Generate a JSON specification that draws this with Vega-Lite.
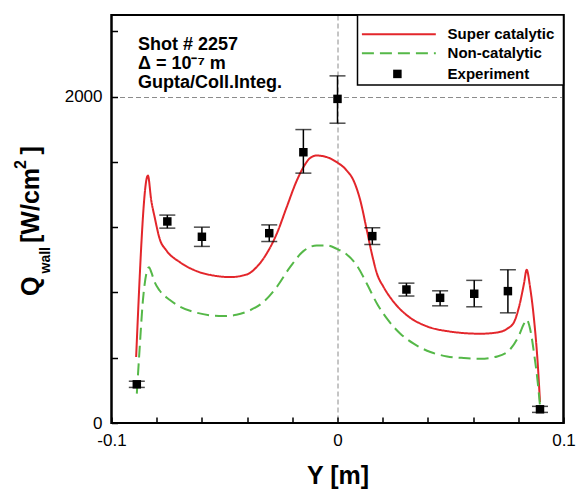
{
  "$schema": "https://vega.github.io/schema/vega-lite/v6.json",
  "width": 452,
  "height": 408,
  "autosize": {"type": "none"},
  "padding": {"left": 111.5, "top": 15, "right": 20.5, "bottom": 67},
  "background": "white",
  "config": {
    "font": "Liberation Sans",
    "view": {"stroke": "black", "strokeWidth": 2},
    "axis": {"labelColor": "black", "titleColor": "black", "labelFont": "Liberation Sans", "titleFont": "Liberation Sans", "domain": false}
  },
  "datasets": {
    "one": [{}],
    "sim": [
      {"Y": -0.0891, "Q": 404, "series": "Super catalytic"},
      {"Y": -0.0839, "Q": 1516, "series": "Super catalytic"},
      {"Y": -0.0824, "Q": 1363, "series": "Super catalytic"},
      {"Y": -0.0809, "Q": 1261, "series": "Super catalytic"},
      {"Y": -0.0787, "Q": 1129, "series": "Super catalytic"},
      {"Y": -0.0757, "Q": 1057, "series": "Super catalytic"},
      {"Y": -0.0698, "Q": 986, "series": "Super catalytic"},
      {"Y": -0.0624, "Q": 931, "series": "Super catalytic"},
      {"Y": -0.055, "Q": 904, "series": "Super catalytic"},
      {"Y": -0.0476, "Q": 894, "series": "Super catalytic"},
      {"Y": -0.0402, "Q": 910, "series": "Super catalytic"},
      {"Y": -0.0358, "Q": 955, "series": "Super catalytic"},
      {"Y": -0.0314, "Q": 1037, "series": "Super catalytic"},
      {"Y": -0.0269, "Q": 1159, "series": "Super catalytic"},
      {"Y": -0.0225, "Q": 1322, "series": "Super catalytic"},
      {"Y": -0.018, "Q": 1486, "series": "Super catalytic"},
      {"Y": -0.0151, "Q": 1567, "series": "Super catalytic"},
      {"Y": -0.0121, "Q": 1624, "series": "Super catalytic"},
      {"Y": -0.0092, "Q": 1639, "series": "Super catalytic"},
      {"Y": -0.0047, "Q": 1629, "series": "Super catalytic"},
      {"Y": -0.0003, "Q": 1598, "series": "Super catalytic"},
      {"Y": 0.0041, "Q": 1547, "series": "Super catalytic"},
      {"Y": 0.0071, "Q": 1486, "series": "Super catalytic"},
      {"Y": 0.0101, "Q": 1363, "series": "Super catalytic"},
      {"Y": 0.013, "Q": 1180, "series": "Super catalytic"},
      {"Y": 0.0152, "Q": 1037, "series": "Super catalytic"},
      {"Y": 0.0175, "Q": 914, "series": "Super catalytic"},
      {"Y": 0.0204, "Q": 833, "series": "Super catalytic"},
      {"Y": 0.0249, "Q": 741, "series": "Super catalytic"},
      {"Y": 0.0308, "Q": 659, "series": "Super catalytic"},
      {"Y": 0.0396, "Q": 592, "series": "Super catalytic"},
      {"Y": 0.0485, "Q": 563, "series": "Super catalytic"},
      {"Y": 0.0633, "Q": 547, "series": "Super catalytic"},
      {"Y": 0.0707, "Q": 555, "series": "Super catalytic"},
      {"Y": 0.0751, "Q": 578, "series": "Super catalytic"},
      {"Y": 0.0781, "Q": 618, "series": "Super catalytic"},
      {"Y": 0.0803, "Q": 710, "series": "Super catalytic"},
      {"Y": 0.0825, "Q": 853, "series": "Super catalytic"},
      {"Y": 0.0837, "Q": 939, "series": "Super catalytic"},
      {"Y": 0.0852, "Q": 833, "series": "Super catalytic"},
      {"Y": 0.087, "Q": 629, "series": "Super catalytic"},
      {"Y": 0.0885, "Q": 384, "series": "Super catalytic"},
      {"Y": 0.0896, "Q": 129, "series": "Super catalytic"},
      {"Y": -0.0888, "Q": 180, "series": "Non-catalytic"},
      {"Y": -0.0876, "Q": 445, "series": "Non-catalytic"},
      {"Y": -0.0861, "Q": 751, "series": "Non-catalytic"},
      {"Y": -0.0846, "Q": 914, "series": "Non-catalytic"},
      {"Y": -0.0834, "Q": 955, "series": "Non-catalytic"},
      {"Y": -0.0824, "Q": 924, "series": "Non-catalytic"},
      {"Y": -0.0809, "Q": 863, "series": "Non-catalytic"},
      {"Y": -0.0787, "Q": 812, "series": "Non-catalytic"},
      {"Y": -0.0743, "Q": 755, "series": "Non-catalytic"},
      {"Y": -0.0698, "Q": 714, "series": "Non-catalytic"},
      {"Y": -0.0624, "Q": 676, "series": "Non-catalytic"},
      {"Y": -0.0506, "Q": 655, "series": "Non-catalytic"},
      {"Y": -0.0447, "Q": 663, "series": "Non-catalytic"},
      {"Y": -0.0388, "Q": 690, "series": "Non-catalytic"},
      {"Y": -0.0328, "Q": 741, "series": "Non-catalytic"},
      {"Y": -0.0269, "Q": 833, "series": "Non-catalytic"},
      {"Y": -0.021, "Q": 955, "series": "Non-catalytic"},
      {"Y": -0.0151, "Q": 1053, "series": "Non-catalytic"},
      {"Y": -0.0092, "Q": 1088, "series": "Non-catalytic"},
      {"Y": -0.0047, "Q": 1088, "series": "Non-catalytic"},
      {"Y": -0.0003, "Q": 1067, "series": "Non-catalytic"},
      {"Y": 0.0041, "Q": 1033, "series": "Non-catalytic"},
      {"Y": 0.0086, "Q": 965, "series": "Non-catalytic"},
      {"Y": 0.013, "Q": 853, "series": "Non-catalytic"},
      {"Y": 0.0175, "Q": 731, "series": "Non-catalytic"},
      {"Y": 0.0219, "Q": 639, "series": "Non-catalytic"},
      {"Y": 0.0278, "Q": 547, "series": "Non-catalytic"},
      {"Y": 0.0337, "Q": 486, "series": "Non-catalytic"},
      {"Y": 0.0411, "Q": 435, "series": "Non-catalytic"},
      {"Y": 0.0485, "Q": 408, "series": "Non-catalytic"},
      {"Y": 0.0559, "Q": 398, "series": "Non-catalytic"},
      {"Y": 0.0633, "Q": 394, "series": "Non-catalytic"},
      {"Y": 0.0707, "Q": 408, "series": "Non-catalytic"},
      {"Y": 0.0766, "Q": 455, "series": "Non-catalytic"},
      {"Y": 0.0803, "Q": 537, "series": "Non-catalytic"},
      {"Y": 0.0825, "Q": 608, "series": "Non-catalytic"},
      {"Y": 0.0837, "Q": 633, "series": "Non-catalytic"},
      {"Y": 0.0852, "Q": 578, "series": "Non-catalytic"},
      {"Y": 0.087, "Q": 424, "series": "Non-catalytic"},
      {"Y": 0.0885, "Q": 261, "series": "Non-catalytic"},
      {"Y": 0.0896, "Q": 108, "series": "Non-catalytic"}
    ],
    "exp": [
      {"Y": -0.0888, "Q": 237, "lo": 218, "hi": 256},
      {"Y": -0.0753, "Q": 1235, "lo": 1194, "hi": 1274},
      {"Y": -0.06, "Q": 1141, "lo": 1082, "hi": 1200},
      {"Y": -0.0302, "Q": 1163, "lo": 1112, "hi": 1214},
      {"Y": -0.0151, "Q": 1659, "lo": 1531, "hi": 1798},
      {"Y": 0.0, "Q": 1986, "lo": 1837, "hi": 2127},
      {"Y": 0.0154, "Q": 1145, "lo": 1094, "hi": 1196},
      {"Y": 0.0305, "Q": 818, "lo": 778, "hi": 857},
      {"Y": 0.0454, "Q": 767, "lo": 718, "hi": 810},
      {"Y": 0.0605, "Q": 792, "lo": 712, "hi": 874},
      {"Y": 0.0754, "Q": 808, "lo": 675, "hi": 939},
      {"Y": 0.0896, "Q": 84, "lo": 65, "hi": 102}
    ]
  },
  "layer": [
    {
      "data": {"name": "sim"},
      "mark": {"type": "line", "interpolate": "monotone", "strokeWidth": 2},
      "encoding": {
        "x": {"field": "Y", "type": "quantitative", "scale": {"domain": [-0.1, 0.1], "nice": false, "zero": false},
          "axis": {"orient": "bottom", "values": [-0.1, -0.09, -0.08, -0.07, -0.06, -0.05, -0.04, -0.03, -0.02, -0.01, 0, 0.01, 0.02, 0.03, 0.04, 0.05, 0.06, 0.07, 0.08, 0.09, 0.1],
            "labelExpr": "(abs(datum.value) < 0.001 || abs(abs(datum.value) - 0.05) < 0.001 || abs(abs(datum.value) - 0.1) < 0.001) ? '' + datum.value : ''",
            "title": "Y [m]", "titleFontSize": 25, "titleFontWeight": "bold", "titlePadding": 15, "labelFontSize": 17, "labelPadding": 15.5,
            "ticks": true, "tickSize": -6, "tickWidth": 1.5, "tickColor": "black",
            "grid": true, "gridWidth": 1, "gridColor": "#8c8c8c", "gridDash": [5, 3],
            "gridOpacity": {"condition": {"test": "abs(datum.value) < 0.001 || abs(abs(datum.value) - 0.05) < 0.001", "value": 1}, "value": 0},
            "labelFlush": false, "labelOverlap": false}},
        "y": {"field": "Q", "type": "quantitative", "scale": {"domain": [0, 2500], "nice": false},
          "axis": {"orient": "left", "values": [0, 100, 200, 300, 400, 500, 600, 700, 800, 900, 1000, 1100, 1200, 1300, 1400, 1500, 1600, 1700, 1800, 1900, 2000, 2100, 2200, 2300, 2400, 2500],
            "labelExpr": "datum.value % 500 == 0 ? '' + datum.value : ''",
            "title": null, "labelFontSize": 17, "labelPadding": 15.5,
            "ticks": true, "tickSize": -6, "tickWidth": 1.5, "tickColor": "black",
            "grid": true, "gridWidth": 1, "gridColor": "#8c8c8c", "gridDash": [5, 3],
            "gridOpacity": {"condition": {"test": "datum.value % 500 == 0 && datum.value > 1 && datum.value < 2499", "value": 1}, "value": 0},
            "labelFlush": false, "labelOverlap": false}},
        "color": {"field": "series", "type": "nominal", "scale": {"domain": ["Super catalytic", "Non-catalytic"], "range": ["#e3262b", "#55b848"]}, "legend": null},
        "strokeDash": {"field": "series", "type": "nominal", "scale": {"domain": ["Super catalytic", "Non-catalytic"], "range": [[1, 0], [12, 6]]}, "legend": null}
      }
    },
    {
      "data": {"name": "exp"},
      "mark": {"type": "rule", "color": "black", "strokeWidth": 1.5},
      "encoding": {
        "x": {"field": "Y", "type": "quantitative"},
        "y": {"field": "lo", "type": "quantitative"},
        "y2": {"field": "hi"}
      }
    },
    {
      "data": {"name": "exp"},
      "mark": {"type": "tick", "orient": "horizontal", "color": "black", "size": 16, "thickness": 1.5},
      "encoding": {
        "x": {"field": "Y", "type": "quantitative"},
        "y": {"field": "hi", "type": "quantitative"}
      }
    },
    {
      "data": {"name": "exp"},
      "mark": {"type": "tick", "orient": "horizontal", "color": "black", "size": 16, "thickness": 1.5},
      "encoding": {
        "x": {"field": "Y", "type": "quantitative"},
        "y": {"field": "lo", "type": "quantitative"}
      }
    },
    {
      "data": {"name": "exp"},
      "mark": {"type": "point", "shape": "square", "filled": true, "color": "black", "size": 72, "opacity": 1},
      "encoding": {
        "x": {"field": "Y", "type": "quantitative"},
        "y": {"field": "Q", "type": "quantitative"}
      }
    },
    {
      "data": {"name": "one"},
      "mark": {"type": "rect", "fill": null, "fillOpacity": 0, "stroke": "black", "strokeWidth": 2},
      "encoding": {"x": {"datum": -0.1}, "x2": {"datum": 0.1}, "y": {"datum": 0}, "y2": {"datum": 2500}}
    },
    {
      "data": {"name": "one"},
      "mark": {"type": "text", "text": ["Shot # 2257", "Δ = 10⁻⁷ m", "Gupta/Coll.Integ."], "font": "Liberation Sans", "fontWeight": "bold", "fontSize": 18, "lineHeight": 18.7, "align": "left", "baseline": "top", "color": "black"},
      "encoding": {"x": {"datum": -0.0883}, "y": {"datum": 2369}}
    },
    {
      "data": {"name": "one"},
      "mark": {"type": "rect", "fill": "white", "stroke": "black", "strokeWidth": 1.5},
      "encoding": {"x": {"datum": 0.00885}, "x2": {"datum": 0.1}, "y": {"datum": 2071}, "y2": {"datum": 2500}}
    },
    {
      "data": {"name": "one"},
      "mark": {"type": "rule", "color": "#e3262b", "strokeWidth": 2},
      "encoding": {"x": {"datum": 0.0108}, "x2": {"datum": 0.0435}, "y": {"datum": 2382}}
    },
    {
      "data": {"name": "one"},
      "mark": {"type": "rule", "color": "#55b848", "strokeWidth": 2, "strokeDash": [12, 6]},
      "encoding": {"x": {"datum": 0.0108}, "x2": {"datum": 0.0435}, "y": {"datum": 2265}}
    },
    {
      "data": {"name": "one"},
      "mark": {"type": "point", "shape": "square", "filled": true, "color": "black", "size": 72, "opacity": 1},
      "encoding": {"x": {"datum": 0.0265}, "y": {"datum": 2139}}
    },
    {
      "data": {"name": "one"},
      "mark": {"type": "text", "text": "Super catalytic", "font": "Liberation Sans", "fontWeight": "bold", "fontSize": 15, "align": "left", "baseline": "middle", "color": "black"},
      "encoding": {"x": {"datum": 0.0487}, "y": {"datum": 2382}}
    },
    {
      "data": {"name": "one"},
      "mark": {"type": "text", "text": "Non-catalytic", "font": "Liberation Sans", "fontWeight": "bold", "fontSize": 15, "align": "left", "baseline": "middle", "color": "black"},
      "encoding": {"x": {"datum": 0.0487}, "y": {"datum": 2265}}
    },
    {
      "data": {"name": "one"},
      "mark": {"type": "text", "text": "Experiment", "font": "Liberation Sans", "fontWeight": "bold", "fontSize": 15, "align": "left", "baseline": "middle", "color": "black"},
      "encoding": {"x": {"datum": 0.0487}, "y": {"datum": 2139}}
    },
    {
      "data": {"name": "one"},
      "mark": {"type": "text", "text": "Q", "font": "Liberation Sans", "fontWeight": "bold", "fontSize": 25, "angle": 270, "align": "left", "baseline": "alphabetic", "dy": -72.5, "color": "black"},
      "encoding": {"x": {"datum": -0.1}, "y": {"datum": 778}}
    },
    {
      "data": {"name": "one"},
      "mark": {"type": "text", "text": "wall", "font": "Liberation Sans", "fontWeight": "bold", "fontSize": 14, "angle": 270, "align": "left", "baseline": "alphabetic", "dy": -62, "color": "black"},
      "encoding": {"x": {"datum": -0.1}, "y": {"datum": 916}}
    },
    {
      "data": {"name": "one"},
      "mark": {"type": "text", "text": "[W/cm", "font": "Liberation Sans", "fontWeight": "bold", "fontSize": 25, "angle": 270, "align": "left", "baseline": "alphabetic", "dy": -72.5, "color": "black"},
      "encoding": {"x": {"datum": -0.1}, "y": {"datum": 1103}}
    },
    {
      "data": {"name": "one"},
      "mark": {"type": "text", "text": "2", "font": "Liberation Sans", "fontWeight": "bold", "fontSize": 16, "angle": 270, "align": "left", "baseline": "alphabetic", "dy": -86, "color": "black"},
      "encoding": {"x": {"datum": -0.1}, "y": {"datum": 1556}}
    },
    {
      "data": {"name": "one"},
      "mark": {"type": "text", "text": "]", "font": "Liberation Sans", "fontWeight": "bold", "fontSize": 25, "angle": 270, "align": "left", "baseline": "alphabetic", "dy": -72.5, "color": "black"},
      "encoding": {"x": {"datum": -0.1}, "y": {"datum": 1645}}
    }
  ]
}
